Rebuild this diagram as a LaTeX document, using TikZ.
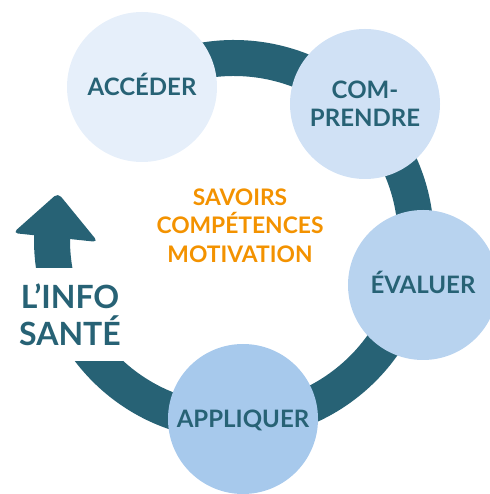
\documentclass[tikz,border=0pt]{standalone}
\usepackage{fontspec}
\setmainfont{Lato}
\usepackage{tikz}
\usetikzlibrary{shapes}
\usetikzlibrary{calc}
\definecolor{petrole}{RGB}{39,98,117}
\definecolor{orangetxt}{RGB}{243,146,0}
\definecolor{bleuA}{RGB}{230,239,250}
\definecolor{bleuB}{RGB}{208,225,245}
\definecolor{bleuC}{RGB}{184,211,239}
\definecolor{bleuD}{RGB}{167,201,236}
\tikzstyle{etape}=[
        circle,
        minimum size=150pt,
        inner sep=0pt,
        text=petrole,
        font=\fontsize{24}{28}\selectfont\bfseries,
        align=center
]
\tikzstyle{uneligne}=[text height=17pt,text depth=0pt]
\tikzstyle{anneau}=[draw=petrole,line width=36pt]
\tikzstyle{centre}=[text=orangetxt,font=\fontsize{22.8}{28.5}\selectfont\bfseries,align=center]
\tikzstyle{info}=[fill=white,text=petrole,minimum width=130pt,minimum height=93pt,
inner sep=0pt,font=\fontsize{32}{37}\selectfont\bfseries,align=center]
\tikzstyle{fleche}=[fill=petrole,rounded corners=5pt]

\begin{document}
\begin{tikzpicture}[x=1pt,y=1pt]
\useasboundingbox (0,0) rectangle (489,494);
\coordinate (o) at (234,254);
%anneau
\draw[anneau] (o) ++(130:182) arc[start angle=130,end angle=-183,radius=182];
\node[etape,uneligne,fill=bleuA] (a) at (142,407) {ACCÉDER};
\node[etape,fill=bleuB] (b) at (365,390) {COM-\\PRENDRE};
\node[etape,uneligne,fill=bleuC] (c) at (423,209) {ÉVALUER};
\node[etape,uneligne,fill=bleuD] (d) at (243,75) {APPLIQUER};
\node[centre] (s) at (240,268.5) {SAVOIRS\\COMPÉTENCES\\MOTIVATION};
%info
\node[info] (i) at (70,179) {L’INFO\\SANTÉ};
\fill[fleche] (13,261) -- (58,301) -- (98,252) -- cycle;
\end{tikzpicture}
\end{document}
